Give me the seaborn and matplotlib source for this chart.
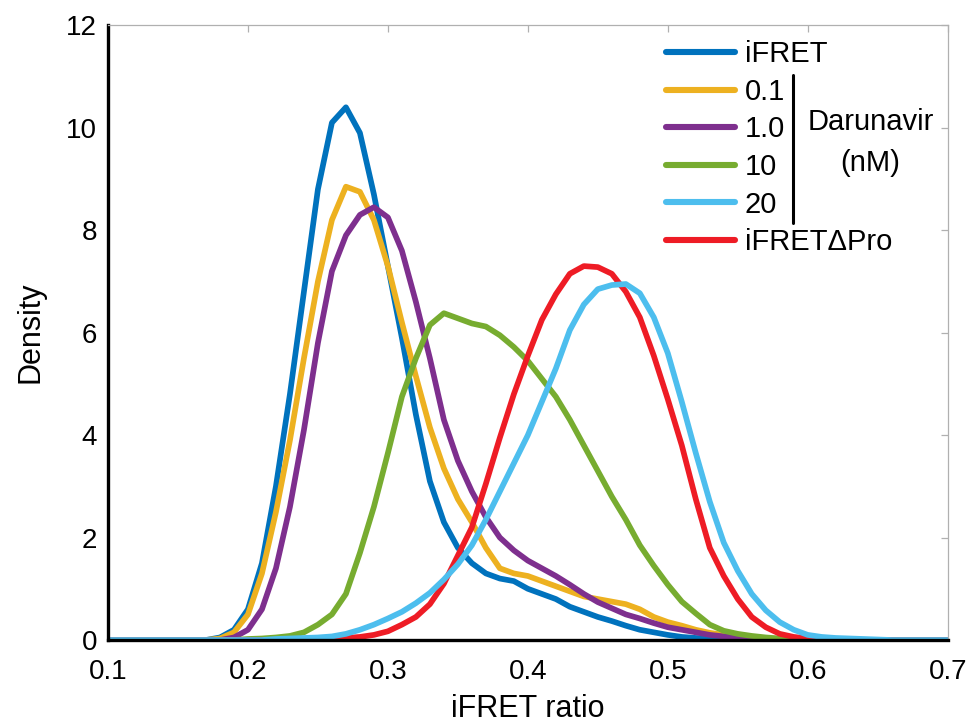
import numpy as np
import pandas as pd
import seaborn as sns
import matplotlib.pyplot as plt
from matplotlib.lines import Line2D

# x grid of the density curves (bin centres)
ratio = np.round(np.arange(0.10, 0.705, 0.01), 2)

# densities, 0.10 ... 0.70
ifret = [0, 0, 0, 0, 0, 0, 0, 0,
         0.05, 0.2, 0.6, 1.5, 3.0, 4.8, 6.8, 8.8, 10.1, 10.4, 9.9, 8.7, 7.3, 5.9, 4.4, 3.1,
         2.3, 1.8, 1.5, 1.3, 1.2, 1.15, 1.0, 0.9, 0.8, 0.65, 0.55, 0.45, 0.37, 0.28, 0.2,
         0.15, 0.1, 0.06, 0.04, 0.03, 0.02, 0.01,
         0, 0, 0, 0, 0, 0, 0, 0, 0, 0, 0, 0, 0, 0, 0]
dar_01 = [0, 0, 0, 0, 0, 0, 0, 0,
          0.03, 0.15, 0.5, 1.3, 2.5, 3.9, 5.5, 7.0, 8.2, 8.85, 8.75, 8.2, 7.3, 6.2, 5.15, 4.15,
          3.35, 2.75, 2.3, 1.8, 1.4, 1.3, 1.25, 1.15, 1.05, 0.95, 0.85, 0.8, 0.75, 0.7, 0.6,
          0.45, 0.35, 0.28, 0.2, 0.14, 0.1, 0.07, 0.05, 0.03, 0.02, 0.01,
          0, 0, 0, 0, 0, 0, 0, 0, 0, 0, 0]
dar_1 = [0, 0, 0, 0, 0, 0, 0, 0, 0,
         0.05, 0.2, 0.6, 1.4, 2.6, 4.1, 5.8, 7.2, 7.9, 8.3, 8.45, 8.25, 7.6, 6.6, 5.5,
         4.3, 3.5, 2.9, 2.4, 2.0, 1.75, 1.55, 1.4, 1.25, 1.08, 0.9, 0.74, 0.62, 0.5, 0.42,
         0.33, 0.25, 0.2, 0.15, 0.1, 0.07, 0.05, 0.03, 0.02, 0.01,
         0, 0, 0, 0, 0, 0, 0, 0, 0, 0, 0, 0]
dar_10 = [0, 0, 0, 0, 0, 0, 0, 0, 0, 0,
          0.02, 0.03, 0.05, 0.08, 0.15, 0.3, 0.5, 0.9, 1.7, 2.6, 3.65, 4.75, 5.5, 6.15,
          6.38, 6.28, 6.18, 6.12, 5.95, 5.72, 5.45, 5.1, 4.75, 4.3, 3.8, 3.3, 2.8, 2.35,
          1.85, 1.45, 1.08, 0.75, 0.52, 0.3, 0.18, 0.12, 0.08, 0.05, 0.03, 0.02, 0.01,
          0, 0, 0, 0, 0, 0, 0, 0, 0, 0]
dar_20 = [0, 0, 0, 0, 0, 0, 0, 0, 0, 0, 0, 0,
          0.02, 0.03, 0.04, 0.05, 0.07, 0.12, 0.2, 0.3, 0.42, 0.55, 0.72, 0.92, 1.18, 1.48,
          1.85, 2.35, 2.9, 3.45, 4.0, 4.65, 5.3, 6.05, 6.55, 6.85, 6.93, 6.95, 6.77, 6.3,
          5.6, 4.65, 3.65, 2.7, 1.9, 1.35, 0.9, 0.58, 0.35, 0.2, 0.1, 0.06, 0.04, 0.03,
          0.02, 0.01,
          0, 0, 0, 0, 0]
dpro = [0, 0, 0, 0, 0, 0, 0, 0, 0, 0, 0, 0, 0, 0, 0,
        0.02, 0.03, 0.04, 0.06, 0.1, 0.17, 0.3, 0.45, 0.7, 1.1, 1.65, 2.2, 3.05, 3.95,
        4.8, 5.55, 6.25, 6.75, 7.15, 7.3, 7.28, 7.15, 6.8, 6.3, 5.55, 4.7, 3.8, 2.75,
        1.8, 1.25, 0.8, 0.45, 0.25, 0.12, 0.06, 0.03, 0.02, 0.01,
        0, 0, 0, 0, 0, 0, 0, 0]

labels = ['iFRET', '0.1', '1.0', '10', '20', 'iFRETΔPro']
colors = ['#0072BD', '#EDB120', '#7E2F8E', '#77AC30', '#4DBEEE', '#EE1C25']
series = [ifret, dar_01, dar_1, dar_10, dar_20, dpro]
draw_order = ['iFRET', '0.1', '1.0', '10', 'iFRETΔPro', '20']

df = pd.concat([pd.DataFrame({'ratio': ratio, 'density': s, 'sample': lab})
                for lab, s in zip(labels, series)], ignore_index=True)

sns.set_style('white')
plt.rcParams['font.family'] = ['Liberation Sans', 'DejaVu Sans']
plt.rcParams['text.color'] = 'black'
plt.rcParams['axes.labelcolor'] = 'black'
plt.rcParams['xtick.color'] = 'black'
plt.rcParams['ytick.color'] = 'black'

fig = plt.figure(figsize=(9.73, 7.24), dpi=100)
ax = fig.add_axes([0.111, 0.116, 0.863, 0.849])

pal = dict(zip(labels, colors))
for lab in draw_order:
    sns.lineplot(data=df[df['sample'] == lab], x='ratio', y='density', color=pal[lab],
                 lw=4.1, ax=ax, legend=False, sort=False)

ax.set_xlim(0.1, 0.7)
ax.set_ylim(0, 12)
ax.set_xticks(np.arange(0.1, 0.71, 0.1))
ax.set_xticklabels(['0.1', '0.2', '0.3', '0.4', '0.5', '0.6', '0.7'])
ax.set_yticks(range(0, 13, 2))
ax.set_xlabel('iFRET ratio', fontsize=22, labelpad=6)
ax.set_ylabel('Density', fontsize=22, labelpad=15)

# MATLAB style box: heavy left/bottom, thin grey top/right
for side in ['left', 'bottom']:
    ax.spines[side].set_linewidth(2.4)
    ax.spines[side].set_color('black')
for side in ['top', 'right']:
    ax.spines[side].set_linewidth(0.9)
    ax.spines[side].set_color('#b0b0b0')
ax.tick_params(axis='both', direction='in', length=9, width=2.2, labelsize=20,
               color='black', labelcolor='black')
ax.tick_params(axis='x', pad=14)
ax.tick_params(axis='y', pad=8)

top = ax.secondary_xaxis('top')
top.set_xticks(ax.get_xticks())
top.tick_params(direction='in', length=5, width=0.9, color='#b0b0b0', labeltop=False)
top.spines['top'].set_visible(False)
right = ax.secondary_yaxis('right')
right.set_yticks(ax.get_yticks())
right.tick_params(direction='in', length=5, width=0.9, color='#b0b0b0', labelright=False)
right.spines['right'].set_visible(False)

handles = [Line2D([], [], color=c, lw=4.4) for c in colors]
ax.legend(handles, labels, loc='upper left', bbox_to_anchor=(0.665, 0.976),
          frameon=False, fontsize=21, handlelength=2.34, handletextpad=0.35,
          labelspacing=0.33, borderpad=0, borderaxespad=0)

# bracket for the darunavir concentrations
ax.plot([0.8155, 0.8155], [0.678, 0.919], color='black', lw=2.2,
        transform=ax.transAxes, clip_on=False)
ax.text(0.908, 0.842, 'Darunavir', transform=ax.transAxes, fontsize=21,
        ha='center', va='center')
ax.text(0.908, 0.776, '(nM)', transform=ax.transAxes, fontsize=21,
        ha='center', va='center')

fig.savefig('out.png', dpi=100)
